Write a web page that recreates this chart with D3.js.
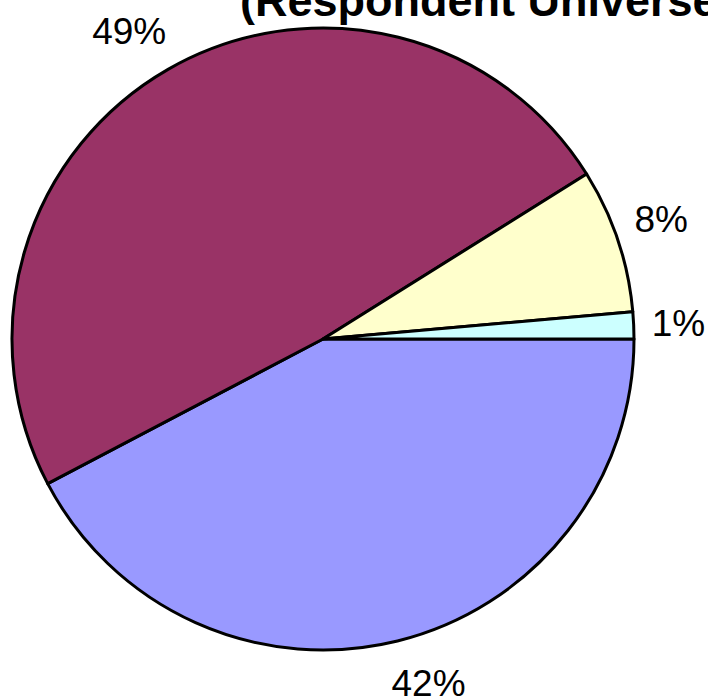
<!DOCTYPE html>
<html>
<head>
<meta charset="utf-8">
<script src="https://cdn.jsdelivr.net/npm/d3@7"></script>
<style>
	body { margin: 0; background: #fff; }
	svg { display: block; }
	text { font-family: "Liberation Sans", Arial, sans-serif; }
</style>
</head>
<body>
<svg id="chart" width="708" height="700"></svg>
<script>
// slice values (share of respondents)
const categories = ["A", "B", "C", "D"];
const values = [42.3, 48.8, 7.5, 1.4];
const labels = ["42%", "49%", "8%", "1%"];
const colors = ["#9999FF", "#993366", "#FFFFCC", "#CCFFFF"];
const titleText = "(Respondent Universe";

const width = 708, height = 700;
const cx = 323, cy = 339, radius = 311;

const svg = d3.select("#chart");

// title, partly outside the picture like the original
svg.append("text")
	.attr("x", 240)
	.attr("y", 16)
	.attr("font-size", 45)
	.attr("font-weight", "bold")
	.text(titleText);

// slices start at 3 o'clock and run clockwise
const pie = d3.pie()
	.sort(null)
	.startAngle(Math.PI / 2)
	.endAngle(Math.PI / 2 + 2 * Math.PI);

const arcs = pie(values);
const arc = d3.arc().innerRadius(0).outerRadius(radius);

const g = svg.append("g").attr("transform", `translate(${cx},${cy})`);

g.selectAll("path")
	.data(arcs)
	.enter().append("path")
	.attr("d", arc)
	.attr("fill", (d, i) => colors[i])
	.attr("stroke", "#000")
	.attr("stroke-width", 3)
	.attr("stroke-linejoin", "round");

// labels sit just outside the rim, box shifted away from the pie
const fontSize = 37;
const gap = 26;
const clamp = v => Math.max(-1, Math.min(1, v));
g.selectAll("text.lbl")
	.data(arcs)
	.enter().append("text")
	.attr("class", "lbl")
	.attr("font-size", fontSize)
	.attr("text-anchor", "middle")
	.attr("dy", "0.36em")
	.text((d, i) => labels[i])
	.each(function(d) {
		const a = (d.startAngle + d.endAngle) / 2;
		const dx = Math.sin(a), dy = -Math.cos(a);
		const w = this.getComputedTextLength();
		const h = 33;
		const r = radius + gap;
		const x = dx * r + clamp(dx * 4) * 0.7 * w / 2;
		const y = dy * r + clamp(dy * 2.5) * h / 2;
		d3.select(this).attr("x", x).attr("y", y);
	});
</script>
</body>
</html>
